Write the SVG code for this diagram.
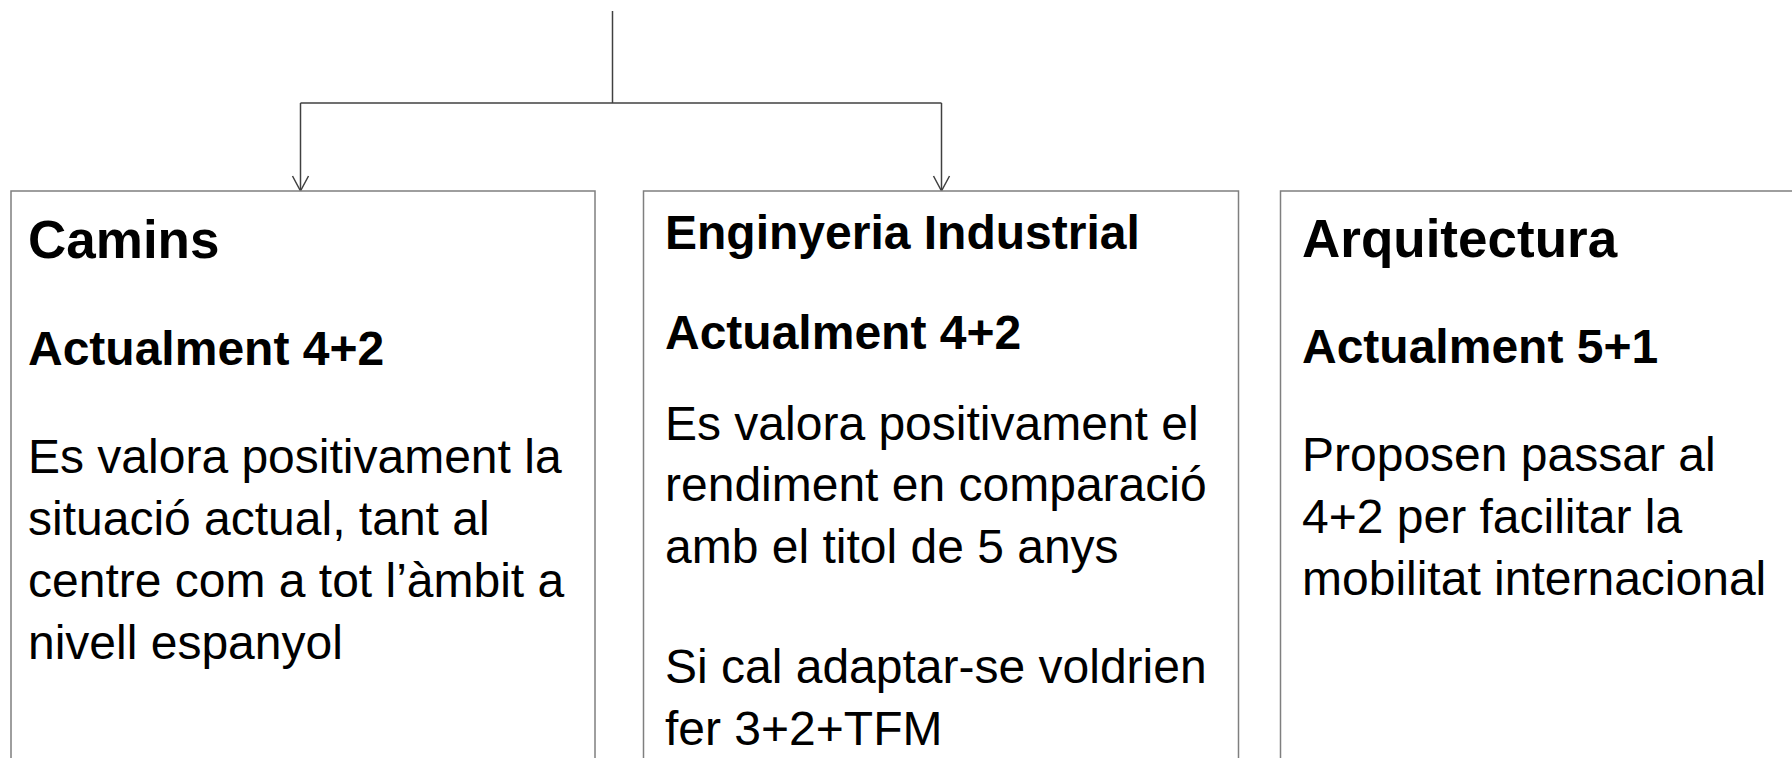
<svg xmlns="http://www.w3.org/2000/svg" width="1792" height="758" viewBox="0 0 1792 758">
<style>
.box{fill:#ffffff;stroke:#7f7f7f;stroke-width:1.5}
.conn{fill:none;stroke:#404040;stroke-width:1.5}
text{font-family:"Liberation Sans",Arial,sans-serif;fill:#000}
.t1{font-size:53px;font-weight:bold}
.t2{font-size:48px;font-weight:bold}
.b{font-size:48px}
</style>
<defs>
<marker id="arr" markerWidth="20" markerHeight="20" refX="10" refY="16" orient="0" markerUnits="userSpaceOnUse">
<path d="M2 1 L10 16 L18 1" fill="none" stroke="#404040" stroke-width="1.5"/>
</marker>
</defs>
<rect width="1792" height="758" fill="#ffffff"/>
<g id="connectors">
<path class="conn" d="M612.5 11 V103"/>
<path class="conn" d="M300.5 103 H941.5"/>
<path class="conn" d="M300.5 103 V191" marker-end="url(#arr)"/>
<path class="conn" d="M941.5 103 V191" marker-end="url(#arr)"/>
</g>
<g id="camins">
<rect class="box" x="11" y="191" width="584" height="620"/>
<text class="t1" x="28" y="258">Camins</text>
<text class="t2" x="28" y="365">Actualment 4+2</text>
<text class="b" x="28" y="473">Es valora positivament la</text>
<text class="b" x="28" y="535">situació actual, tant al</text>
<text class="b" x="28" y="597">centre com a tot l’àmbit a</text>
<text class="b" x="28" y="659">nivell espanyol</text>
</g>
<g id="enginyeria">
<rect class="box" x="643.5" y="191" width="595" height="620"/>
<text class="t2" x="665" y="249">Enginyeria Industrial</text>
<text class="t2" x="665" y="349">Actualment 4+2</text>
<text class="b" x="665" y="440">Es valora positivament el</text>
<text class="b" x="665" y="501">rendiment en comparació</text>
<text class="b" x="665" y="563">amb el titol de 5 anys</text>
<text class="b" x="665" y="683">Si cal adaptar-se voldrien</text>
<text class="b" x="665" y="745">fer 3+2+TFM</text>
</g>
<g id="arquitectura">
<rect class="box" x="1280.5" y="191" width="620" height="620"/>
<text class="t1" x="1302" y="257">Arquitectura</text>
<text class="t2" x="1302" y="363">Actualment 5+1</text>
<text class="b" x="1302" y="471">Proposen passar al</text>
<text class="b" x="1302" y="533">4+2 per facilitar la</text>
<text class="b" x="1302" y="595">mobilitat internacional</text>
</g>
</svg>
